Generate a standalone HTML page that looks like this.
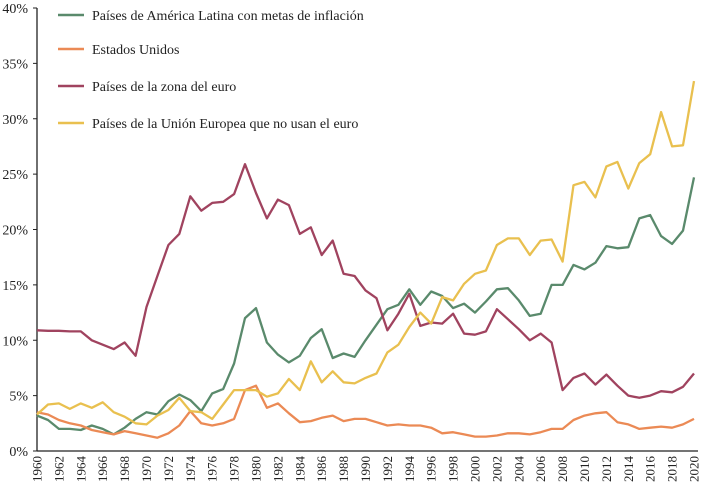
<!DOCTYPE html>
<html><head><meta charset="utf-8"><style>
body{margin:0;background:#fff;}
svg text{font-family:"Liberation Serif",serif;fill:#222;}
</style></head><body>
<svg id="chart" width="701" height="491" xmlns="http://www.w3.org/2000/svg"></svg>
<script>
const years = [];
for (let y = 1960; y <= 2020; y++) years.push(y);
const yTicks = [0,5,10,15,20,25,30,35,40];
const latamValues = [3.2,2.8,2.0,2.0,1.9,2.3,2.0,1.5,2.1,2.9,3.5,3.3,4.5,5.1,4.6,3.6,5.2,5.6,7.9,12.0,12.9,9.8,8.7,8.0,8.6,10.2,11.0,8.4,8.8,8.5,10.0,11.4,12.8,13.2,14.6,13.2,14.4,14.0,12.9,13.3,12.5,13.5,14.6,14.7,13.6,12.2,12.4,15.0,15.0,16.8,16.4,17.0,18.5,18.3,18.4,21.0,21.3,19.4,18.7,19.9,24.7];
const usValues = [3.5,3.3,2.8,2.5,2.3,1.9,1.7,1.5,1.8,1.6,1.4,1.2,1.6,2.3,3.6,2.5,2.3,2.5,2.9,5.5,5.9,3.9,4.3,3.4,2.6,2.7,3.0,3.2,2.7,2.9,2.9,2.6,2.3,2.4,2.3,2.3,2.1,1.6,1.7,1.5,1.3,1.3,1.4,1.6,1.6,1.5,1.7,2.0,2.0,2.8,3.2,3.4,3.5,2.6,2.4,2.0,2.1,2.2,2.1,2.4,2.9];
const euroValues = [10.9,10.85,10.85,10.8,10.8,10.0,9.6,9.2,9.8,8.6,13.0,15.8,18.6,19.6,23.0,21.7,22.4,22.5,23.2,25.9,23.3,21.0,22.7,22.2,19.6,20.2,17.7,19.0,16.0,15.8,14.5,13.8,10.9,12.4,14.2,11.3,11.6,11.5,12.4,10.6,10.5,10.8,12.8,11.9,11.0,10.0,10.6,9.8,5.5,6.6,7.0,6.0,6.9,5.9,5.0,4.8,5.0,5.4,5.3,5.8,7.0];
const euNonEuroValues = [3.3,4.2,4.3,3.8,4.3,3.9,4.4,3.5,3.1,2.5,2.4,3.2,3.7,4.8,3.6,3.5,2.9,4.2,5.5,5.5,5.5,4.9,5.2,6.5,5.5,8.1,6.2,7.2,6.2,6.1,6.6,7.0,8.9,9.6,11.2,12.5,11.5,13.9,13.6,15.1,16.0,16.3,18.6,19.2,19.2,17.7,19.0,19.1,17.1,24.0,24.3,22.9,25.7,26.1,23.7,26.0,26.8,30.6,27.5,27.6,33.4];
const seriesNames = ["Países de América Latina con metas de inflación","Estados Unidos","Países de la zona del euro","Países de la Unión Europea que no usan el euro"];
const seriesColors = ["#5a8a6c","#eb8a55","#a0435f","#e9c04f"];
const seriesData = [latamValues, usValues, euroValues, euNonEuroValues];
const seriesIds = ["latam","us","euro","eu-non-euro"];

const NS = "http://www.w3.org/2000/svg";
const svg = document.getElementById('chart');
const X0 = 37, X1 = 694, Y0 = 451, Y1 = 8;
const xs = y => X0 + (y - 1960) / 60 * (X1 - X0);
const ys = v => Y0 - v / 40 * (Y0 - Y1);
function mk(tag, attrs){ const e = document.createElementNS(NS, tag); for (const k in attrs) e.setAttribute(k, attrs[k]); svg.appendChild(e); return e; }

yTicks.forEach(t => {
  const tx = mk('text', {x: 28, y: ys(t) + 5, 'text-anchor': 'end', 'font-size': 14});
  tx.textContent = t + '%';
  
  
  const tk = mk('line', {x1: 33, x2: 37, y1: ys(t), y2: ys(t), stroke: '#222', 'stroke-width': 1});
  
  
});
years.forEach(yr => {
  if (yr % 2) return;
  const x = xs(yr);
  const tx = mk('text', {x: 0, y: 0, 'text-anchor': 'end', 'font-size': 13, transform: `translate(${x + 4.5},456) rotate(-90)`});
  tx.textContent = yr;
  
  
});
const ya = mk('line', {x1: X0, x2: X0, y1: Y1, y2: Y0, stroke: '#222', 'stroke-width': 1.3});


const xa = mk('line', {x1: X0, x2: 698, y1: Y0, y2: Y0, stroke: '#222', 'stroke-width': 1.3});



seriesData.forEach((vals, i) => {
  const pts = vals.map((v, j) => xs(years[j]).toFixed(1) + ',' + ys(v).toFixed(1)).join(' ');
  const pl = mk('polyline', {points: pts, fill: 'none', stroke: seriesColors[i], 'stroke-width': 2.3, 'stroke-linejoin': 'round'});
  
  
});

const legendY = [15, 49, 86, 123];
seriesNames.forEach((n, i) => {
  const ln = mk('line', {x1: 58, x2: 84, y1: legendY[i], y2: legendY[i], stroke: seriesColors[i], 'stroke-width': 2.5});
  
  
  const tx = mk('text', {x: 92, y: legendY[i] + 5, 'font-size': 14});
  tx.textContent = n;
  
  
});
</script>
</body></html>
